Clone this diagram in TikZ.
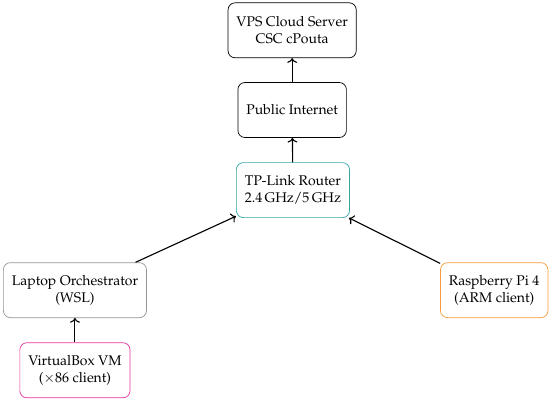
\documentclass[tikz,border=0pt]{standalone}
\usepackage[T1]{fontenc}
\usepackage{mathpazo}
\usepackage{tikz}
\usetikzlibrary{arrows.meta,positioning}

\definecolor{routerteal}{RGB}{50,165,165}
\definecolor{vmpink}{RGB}{235,50,160}
\definecolor{piorange}{RGB}{245,155,55}

\begin{document}
\begin{tikzpicture}[
  every node/.style={font=\normalsize},
  hostbox/.style={draw, rounded corners=5pt, align=center, inner xsep=6pt,
    minimum height=1.38cm, line width=0.5pt},
  link/.style={->, line width=0.8pt}
]
\useasboundingbox (0,0) rectangle (13.8,-10.09);

% Cloud side.
\node[hostbox] (vps) at (7.33,-0.76) {VPS Cloud Server\\CSC cPouta};
\node[hostbox] (inet) at (7.33,-2.76) {Public Internet};
\node[hostbox, draw=routerteal] (router) at (7.35,-4.77)
  {TP-Link Router\\2.4\,GHz/5\,GHz};

% Local clients.
\node[hostbox, draw=gray!85] (laptop) at (1.88,-7.28) {Laptop Orchestrator\\(WSL)};
\node[hostbox, draw=vmpink] (vbox) at (1.88,-9.29) {VirtualBox VM\\($\times$86 client)};
\node[hostbox, draw=piorange] (pi) at (12.40,-7.28) {Raspberry Pi 4\\(ARM client)};

\draw[link] (inet) -- (vps);
\draw[link] (router) -- (inet);
\draw[link] (laptop) -- (router);
\draw[link] (pi) -- (router);
\draw[link] (vbox) -- (laptop);
\end{tikzpicture}
\end{document}
